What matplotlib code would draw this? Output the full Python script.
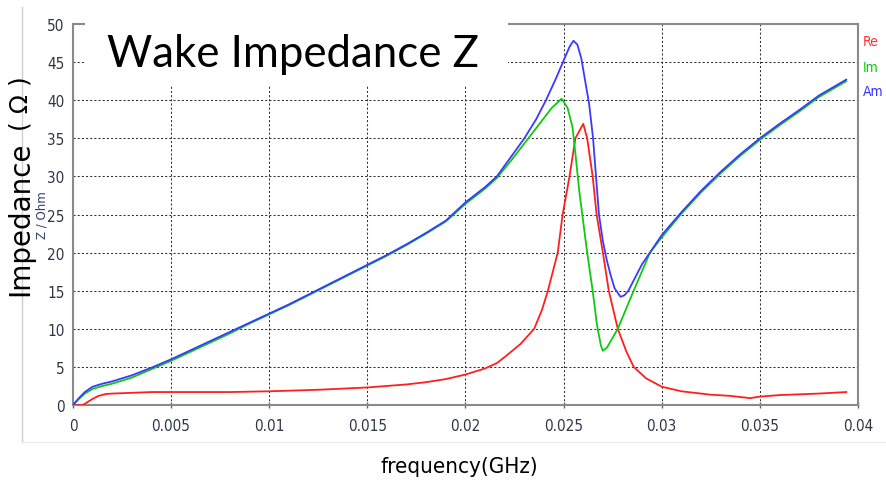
import matplotlib
matplotlib.use("Agg")
import matplotlib.pyplot as plt
from matplotlib.patches import Rectangle
from matplotlib.lines import Line2D
from matplotlib.ticker import FixedLocator, FixedFormatter

# Re(Z)
re_freq = [0, 0.0005, 0.001, 0.0013, 0.0017, 0.002, 0.003, 0.004, 0.006, 0.008, 0.010,
           0.0125, 0.015, 0.017, 0.018, 0.019, 0.020, 0.021, 0.0216, 0.022, 0.0228,
           0.0235, 0.0239, 0.0242, 0.0245, 0.0247, 0.02495, 0.0253, 0.0256, 0.0260,
           0.0262, 0.02648, 0.02668, 0.0270, 0.0273, 0.02776, 0.0282, 0.02857, 0.0292,
           0.0300, 0.031, 0.032, 0.0325, 0.0335, 0.0345, 0.035, 0.036, 0.037, 0.038, 0.0394]
re_vals = [0, 0.0, 0.8, 1.2, 1.45, 1.5, 1.6, 1.7, 1.7, 1.7, 1.8,
           2.0, 2.3, 2.7, 3.0, 3.4, 4.0, 4.8, 5.5, 6.3, 8.0,
           10.0, 12.5, 15.0, 18.0, 20.0, 25.0, 30.0, 35.0, 36.9,
           35.0, 30.0, 25.0, 20.0, 15.0, 10.0, 7.0, 5.0, 3.5,
           2.4, 1.8, 1.5, 1.35, 1.2, 0.9, 1.1, 1.3, 1.4, 1.5, 1.7]

# Im(Z)
im_freq = [0, 0.0003, 0.0006, 0.001, 0.0015, 0.002, 0.003, 0.004, 0.005, 0.006, 0.007,
           0.008, 0.009, 0.010, 0.011, 0.012, 0.013, 0.014, 0.015, 0.016, 0.017, 0.018,
           0.019, 0.020, 0.021, 0.0216, 0.0223, 0.0232, 0.0238, 0.0244, 0.0249, 0.0252,
           0.02545, 0.0256, 0.0258, 0.0260, 0.0262, 0.02648, 0.0267, 0.0269, 0.0270,
           0.0272, 0.02776, 0.02857, 0.0294, 0.0300, 0.0310, 0.032, 0.033, 0.034, 0.035,
           0.036, 0.037, 0.038, 0.0394]
im_vals = [0, 0.8, 1.5, 2.1, 2.5, 2.8, 3.6, 4.7, 5.8, 7.0, 8.2,
           9.4, 10.7, 11.9, 13.1, 14.4, 15.7, 17.0, 18.3, 19.6, 21.0, 22.5,
           24.1, 26.4, 28.4, 29.8, 32.0, 35.0, 37.0, 39.0, 40.2, 39.0,
           36.5, 33.0, 28.0, 24.0, 20.0, 15.0, 10.5, 7.8, 7.1,
           7.5, 10.0, 15.0, 20.0, 22.0, 25.1, 27.9, 30.4, 32.7, 34.8,
           36.7, 38.5, 40.4, 42.5]

# |Z|
am_freq = [0, 0.0003, 0.0006, 0.001, 0.0015, 0.002, 0.003, 0.004, 0.005, 0.006, 0.007,
           0.008, 0.009, 0.010, 0.011, 0.012, 0.013, 0.014, 0.015, 0.016, 0.017, 0.018,
           0.019, 0.020, 0.021, 0.0216, 0.0223, 0.023, 0.0236, 0.0241, 0.0246, 0.0250,
           0.0253, 0.0255, 0.0257, 0.0259, 0.0261, 0.0263, 0.0265, 0.02665, 0.0268,
           0.0270, 0.0272, 0.0274, 0.0276, 0.0279, 0.0281, 0.0283, 0.0287, 0.0290,
           0.0294, 0.0300, 0.0310, 0.0320, 0.0330, 0.0340, 0.0350, 0.0360, 0.0370,
           0.0380, 0.0394]
am_vals = [0, 0.9, 1.7, 2.4, 2.8, 3.1, 3.9, 4.9, 6.0, 7.2, 8.4,
           9.6, 10.8, 12.0, 13.2, 14.5, 15.8, 17.1, 18.4, 19.7, 21.1, 22.6,
           24.2, 26.6, 28.6, 30.0, 32.5, 35.0, 37.5, 40.0, 42.8, 45.2,
           47.0, 47.8, 47.3, 45.5, 42.5, 39.5, 35.0, 30.0, 25.0,
           21.5, 19.0, 17.0, 15.3, 14.2, 14.4, 15.0, 17.0, 18.5,
           20.0, 22.3, 25.3, 28.1, 30.6, 32.9, 35.0, 36.9, 38.7,
           40.6, 42.7]

x_ticks = [0, 0.005, 0.01, 0.015, 0.02, 0.025, 0.03, 0.035, 0.04]
x_labels = ["0", "0.005", "0.01", "0.015", "0.02", "0.025", "0.03", "0.035", "0.04"]
y_ticks = [0, 5, 10, 15, 20, 25, 30, 35, 40, 45, 50]

W, H = 887, 489

fig = plt.figure(figsize=(W / 100, H / 100), dpi=100)
ax = fig.add_axes([73 / W, 83 / H, 785 / W, 381 / H])

ax.plot(re_freq, re_vals, color="#ff1f1f", lw=1.3, zorder=3)
ax.plot(im_freq, im_vals, color="#10c810", lw=1.3, zorder=4)
ax.plot(am_freq, am_vals, color="#3a3aff", lw=1.3, zorder=5)

ax.set_xlim(0, 0.04)
ax.set_ylim(0, 50)
ax.xaxis.set_major_locator(FixedLocator(x_ticks))
ax.xaxis.set_major_formatter(FixedFormatter(x_labels))
ax.set_yticks(y_ticks)
ax.grid(True, color="#303030", lw=0.75, linestyle=(0, (2, 2)))

for s in ax.spines.values():
    s.set_color("#8a8a8a")
    s.set_linewidth(1.5)

ax.tick_params(axis="x", direction="inout", length=5, width=1, color="#666666",
               pad=7, labelsize=11, labelcolor="#2f3545")
ax.tick_params(axis="y", length=0, pad=6, labelsize=11, labelcolor="#2f3545")
for lab in ax.get_xticklabels() + ax.get_yticklabels():
    lab.set_family("DejaVu Sans")
    lab.set_fontstretch("condensed")

# white box pasted over the top-left of the plot, with the title on it
fig.patches.append(Rectangle((85 / W, 1 - 87 / H), (508 - 85) / W, 87 / H,
                             transform=fig.transFigure, facecolor="white",
                             edgecolor="none", zorder=10))
fig.text(107 / W, 1 - 67 / H, "Wake Impedance Z", fontsize=31.5, family="Lato",
         ha="left", va="baseline", color="black", zorder=11)

# faint screenshot frame lines
fig.add_artist(Line2D([22 / W, 22 / W], [1 - 443 / H, 1 - 8 / H], color="#cfcfcf", lw=1))
fig.add_artist(Line2D([22 / W, 1], [1 - 443 / H, 1 - 443 / H], color="#ececec", lw=1))

# axis labels ("Impedance" with the wide-spaced "( Ω )" above it)
fig.text(20 / W, 1 - 219 / H, "Impedance", rotation=90, fontsize=20,
         family="DejaVu Sans", ha="center", va="center")
fig.text(21 / W, 1 - 104 / H, "( Ω )", rotation=90, fontsize=18,
         family="DejaVu Sans", ha="center", va="center")
fig.text(42 / W, 1 - 215 / H, "Z / Ohm", rotation=90, fontsize=8.5,
         color="#2b3f6b", ha="center", va="center")
fig.text(459 / W, 1 - 467 / H, "frequency(GHz)", fontsize=16, family="DejaVu Sans",
         fontstretch="condensed", ha="center", va="center")

# series names at the right edge
for name, col, ypx in [("Re", "#ff3030", 42), ("Im", "#00cc00", 68), ("Am", "#3030ff", 92)]:
    fig.text(863 / W, 1 - ypx / H, name, color=col, fontsize=10, family="DejaVu Sans",
             fontstretch="condensed", va="center")

fig.savefig("out.png", dpi=100)
